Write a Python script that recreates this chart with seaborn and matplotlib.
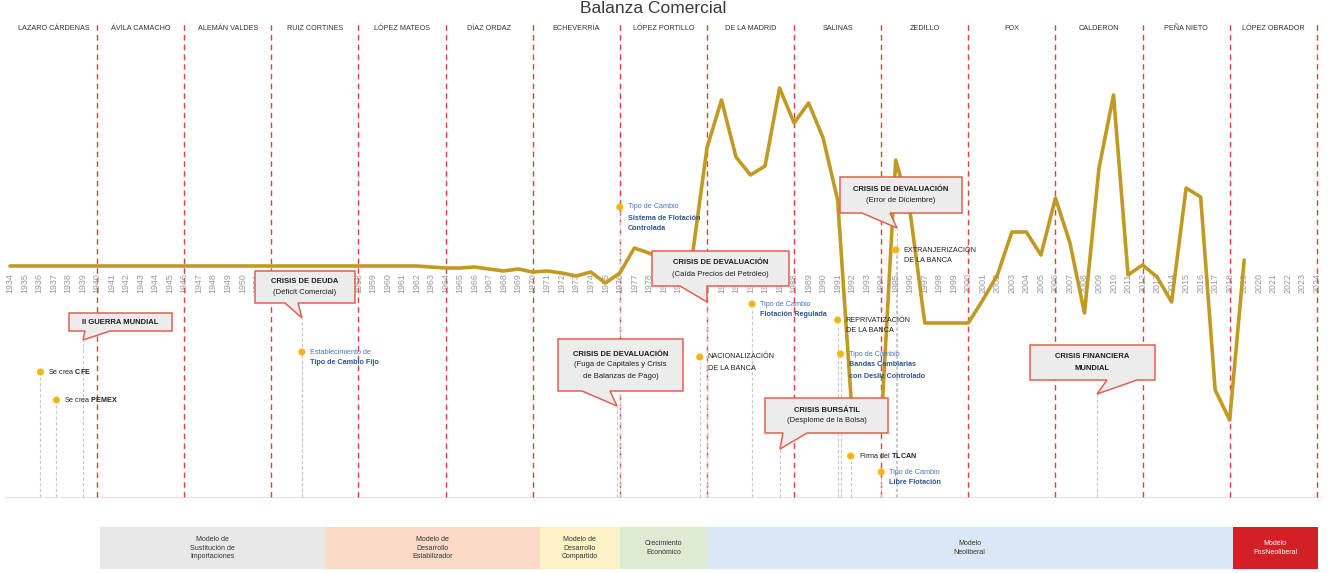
import matplotlib
matplotlib.use("Agg")
import matplotlib.pyplot as plt
from matplotlib import font_manager
from matplotlib.patches import Polygon, Rectangle
import seaborn as sns

# Balanza comercial (escala relativa)
years = list(range(1934, 2020))
balanza = [
    -0.1, -0.1, -0.1, -0.1, -0.1, -0.1, -0.1, -0.1, -0.1, -0.1,   # 1934-1943
    -0.1, -0.1, -0.1, -0.1, -0.1, -0.1, -0.1, -0.1, -0.1, -0.1,   # 1944-1953
    -0.1, -0.1, -0.1, -0.1, -0.1, -0.1, -0.1, -0.1, -0.1,         # 1954-1962
    -0.2, -0.3, -0.3, -0.2, -0.4, -0.6, -0.4, -0.7, -0.6, -0.8,   # 1963-1972
    -1.1, -0.7, -1.8, -0.8, 1.7, 1.2, 0.5, -0.3, 1.0, 11.7,       # 1973-1982
    16.5, 10.8, 9.0, 9.9, 17.7, 14.2, 16.2, 12.7, 6.5, -15.0,     # 1983-1992
    -14.5, -16.0, 10.5, 5.2, -5.8, -5.8, -5.8, -5.8, -3.5, -1.0,  # 1993-2002
    3.3, 3.3, 1.0, 6.7, 2.2, -4.8, 9.7, 17.0, -1.0, 0.0,          # 2003-2012
    -1.2, -3.7, 7.7, 6.8, -12.5, -15.5, 0.5,                      # 2013-2019
]

presidentes = ["LAZARO CÁRDENAS", "ÁVILA CAMACHO", "ALEMÁN VALDES", "RUIZ CORTINES",
               "LÓPEZ MATEOS", "DÍAZ ORDAZ", "ECHEVERRÍA", "LÓPEZ PORTILLO",
               "DE LA MADRID", "SALINAS", "ZEDILLO", "FOX", "CALDERON",
               "PEÑA NIETO", "LÓPEZ OBRADOR"]
inicio_sexenio = [1934, 1940, 1946, 1952, 1958, 1964, 1970, 1976,
                  1982, 1988, 1994, 2000, 2006, 2012, 2018]
anios_eje = list(range(1934, 2025))

eventos = [
    ["Se crea $\\mathbf{CFE}$"],
    ["Se crea $\\mathbf{PEMEX}$"],
    ["Establecimiento de", "Tipo de Cambio Fijo"],
    ["Tipo de Cambio", "Sistema de Flotación", "Controlada"],
    ["NACIONALIZACIÓN", "DE LA BANCA"],
    ["Tipo de Cambio", "Flotación Regulada"],
    ["REPRIVATIZACIÓN", "DE LA BANCA"],
    ["Tipo de Cambio", "Bandas Cambiarias", "con Desliz Controlado"],
    ["EXTRANJERIZACIÓN", "DE LA BANCA"],
    ["Firma del $\\mathbf{TLCAN}$"],
    ["Tipo de Cambio", "Libre Flotación"],
]
evento_anio = [1936.1, 1937.2, 1954.1, 1976.0, 1981.5, 1985.1,
               1991.0, 1991.2, 1995.0, 1991.9, 1994.0]
evento_tipo = ["k", "k", "b", "b", "k", "b", "k", "b", "k", "k", "b"]

crisis = [
    ["II GUERRA MUNDIAL"],
    ["CRISIS DE DEUDA", "(Déficit Comercial)"],
    ["CRISIS DE DEVALUACIÓN", "(Fuga de Capitales y Crisis", "de Balanzas de Pago)"],
    ["CRISIS DE DEVALUACIÓN", "(Caída Precios del Petróleo)"],
    ["CRISIS DE DEVALUACIÓN", "(Error de Diciembre)"],
    ["CRISIS BURSÁTIL", "(Desplome de la Bolsa)"],
    ["CRISIS FINANCIERA", "MUNDIAL"],
]

modelos = ["Modelo de\nSustitución de\nImportaciones", "Modelo de\nDesarrollo\nEstabilizador",
           "Modelo de\nDesarrollo\nCompartido", "Crecimiento\nEconómico",
           "Modelo\nNeoliberal", "Modelo\nPosNeoliberal"]
modelo_inicio = [1940.2, 1955.7, 1970.5, 1976.0, 1982.0, 2018.2]
modelo_fin = [1955.7, 1970.5, 1976.0, 1982.0, 2018.2, 2024.1]

# ---------------------------------------------------------------
sns.set_theme(style="white")
nombres = {f.name for f in font_manager.fontManager.ttflist}
FAM = "Liberation Sans Narrow" if "Liberation Sans Narrow" in nombres else "Liberation Sans"
plt.rcParams["font.family"] = [FAM, "DejaVu Sans"]
plt.rcParams["mathtext.fontset"] = "custom"
plt.rcParams["mathtext.rm"] = FAM
plt.rcParams["mathtext.bf"] = FAM + ":bold"
FS = 6.0 if FAM.endswith("Narrow") else 5.2

PX_YEAR = 14.52
X0 = 1934 - 10 / PX_YEAR


def xpx(p):
    return X0 + p / PX_YEAR


def ypx(p):
    return (265 - p) / 10.0


def yr2px(a):
    return (a - X0) * PX_YEAR


fig = plt.figure(figsize=(13.3, 5.73), dpi=100)
ax = fig.add_axes([0, 0, 1, 1])
ax.set_xlim(X0, X0 + 1330 / PX_YEAR)
ax.set_ylim(ypx(573), ypx(0))
ax.axis("off")

# titulo (cortado arriba)
ax.text(xpx(653), ypx(13), "Balanza Comercial", ha="center", va="baseline",
        fontsize=12.5, color="#3a3a3a")

# sexenios
ax.vlines(inicio_sexenio[1:] + [2024], ypx(497), ypx(24), colors="#e3403a",
          linestyles=(0, (4, 3)), lw=1.0, zorder=1)
for nom, ini in zip(presidentes, inicio_sexenio):
    ax.text(ini + 3, ypx(28), nom, ha="center", va="center", fontsize=FS,
            color="#333333")

# linea base inferior
ax.hlines(ypx(497), xpx(5), xpx(1322), colors="#e2e2e2", lw=0.8, zorder=0)

# globos de crisis (caja, base de la cola, punta)
globos = [
    ((69, 313, 172, 331), (85, 110), (83, 340)),
    ((255, 271, 355, 303), (285, 298), (302, 318)),
    ((558, 339, 683, 391), (582, 610), (617, 406)),
    ((652, 251, 789, 286), (680, 707), (707, 302)),
    ((840, 177, 962, 213), (862, 890), (897, 228)),
    ((765, 398, 888, 433), (783, 807), (780, 449)),
    ((1030, 345, 1155, 380), (1107, 1137), (1097, 394)),
]

# etiquetas de anios (las que quedan totalmente bajo la caja de deuda no se ven)
for a in anios_eje:
    p = yr2px(a)
    if 255 < p - 4 and p + 4 < 355:
        continue
    ax.text(a, ypx(283), str(a), rotation=90, ha="center", va="center",
            fontsize=FS + 1.2, color="#9a9a9a", zorder=2)

# serie
sns.lineplot(x=years, y=balanza, ax=ax, color="#c19a24", lw=2.6, zorder=3,
             legend=False)

# eventos
ev_py = [372, 400, 352, 207, 357, 304, 320, 354, 250, 456, 472]
sns.scatterplot(x=evento_anio, y=[ypx(p) for p in ev_py], ax=ax, color="#f8b415",
                s=26, edgecolor="none", zorder=5, legend=False)
for lines, a, p, tipo in zip(eventos, evento_anio, ev_py, evento_tipo):
    ax.vlines(a, ypx(497), ypx(p + 5), colors="#c8c8c8", linestyles=(0, (3, 2)),
              lw=0.8, zorder=1)
    for i, t in enumerate(lines):
        if tipo == "b":
            col = "#4a76c4" if i == 0 else "#2f5597"
            w = "normal" if i == 0 else "bold"
        else:
            col, w = "#222222", "normal"
        ax.text(xpx(yr2px(a) + 8), ypx(p + i * 11), t, ha="left", va="center",
                fontsize=FS, color=col, fontweight=w, zorder=5)

for lines, (box, base, tip) in zip(crisis, globos):
    x0, y0, x1, y1 = box
    pts = [(x0, y0), (x1, y0), (x1, y1), (base[1], y1), tip, (base[0], y1), (x0, y1)]
    ax.add_patch(Polygon([(xpx(a), ypx(b)) for a, b in pts], closed=True,
                         fc="#ececec", ec="#e3604f", lw=1.1, zorder=6))
    ax.vlines(xpx(tip[0]), ypx(497), ypx(tip[1]), colors="#c8c8c8",
              linestyles=(0, (3, 2)), lw=0.8, zorder=1)
    n = len(lines)
    yc = (y0 + y1) / 2
    todo_negrita = lines[0].startswith("CRISIS FIN") or n == 1
    for i, t in enumerate(lines):
        w = "bold" if (i == 0 or todo_negrita) else "normal"
        ax.text(xpx((x0 + x1) / 2), ypx(yc + (i - (n - 1) / 2) * 11), t,
                ha="center", va="center", fontsize=FS + 0.3, color="#1e1e1e",
                fontweight=w, zorder=7)

# modelos economicos
colores = ["#e8e8e8", "#fad9c6", "#fdf2c6", "#dcebd2", "#d9e8f4", "#d31f26"]
for txt, a0, a1, c in zip(modelos, modelo_inicio, modelo_fin, colores):
    ax.add_patch(Rectangle((a0, ypx(569)), a1 - a0, ypx(527) - ypx(569),
                           fc=c, ec="none", zorder=1))
    ax.text((a0 + a1) / 2, ypx(548), txt, ha="center", va="center",
            fontsize=FS - 0.2, linespacing=1.25,
            color="white" if c == "#d31f26" else "#333333", zorder=2)

fig.savefig("out.png", dpi=100)
